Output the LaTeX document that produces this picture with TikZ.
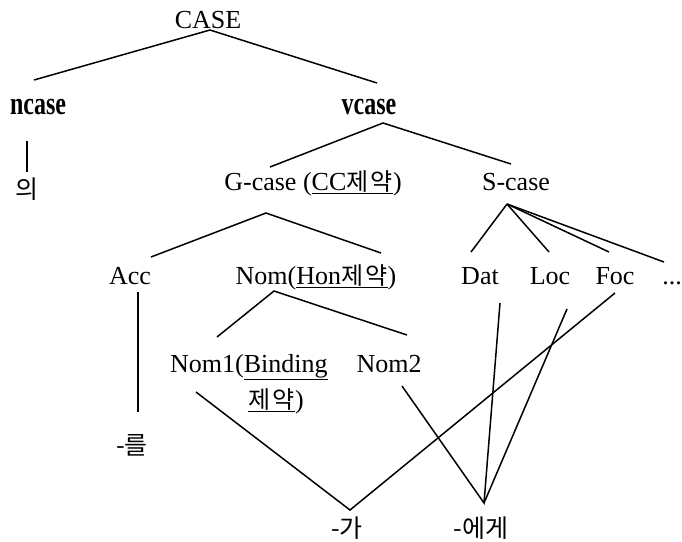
\documentclass[tikz,border=0pt]{standalone}
\usepackage{graphicx}
\usepackage{fontspec}
\setmainfont{Liberation Serif}
\newfontfamily\kr{Noto Sans CJK KR}
\newcommand{\kk}[1]{{\kr\fontsize{24}{28}\selectfont #1}}
\newcommand{\jy}{\kk{제\hspace{2.5pt}약}}
\begin{document}
\begin{tikzpicture}[x=1pt,y=-1pt,
  lbl/.style={inner sep=0pt,anchor=base,font=\fontsize{26}{30}\selectfont},
  blbl/.style={inner sep=0pt,anchor=base,font=\fontsize{24}{28}\selectfont\bfseries},
  klbl/.style={inner sep=0pt,anchor=center,font=\kr\fontsize{25}{29}\selectfont},
  edge/.style={line width=1.5pt}]
\useasboundingbox (0,0) rectangle (682,541);
% labels
\node[lbl] (case) at (208,28) {CASE};
\node[blbl] (ncase) at (38,114) {\scalebox{1}[1.35]{ncase}};
\node[blbl] (vcase) at (369,114) {\scalebox{1}[1.35]{vcase}};
\node[klbl] (ui) at (27,189) {의};
\node[lbl] (gcase) at (313,190) {G-case (\underline{CC\jy})};
\node[lbl] (scase) at (516,190) {S-case};
\node[lbl] (acc) at (130,284) {Acc};
\node[lbl] (nom) at (316,284) {Nom(\underline{Hon\jy})};
\node[lbl] (dat) at (480,284) {Dat};
\node[lbl] (loc) at (550,284) {Loc};
\node[lbl] (foc) at (615,284) {Foc};
\node[lbl] (dots) at (672,284) {...};
\node[lbl,anchor=base west] (nom1) at (170,372) {Nom1(\underline{Binding}};
\node[lbl] (nom2) at (389,372) {Nom2};
\node[lbl] (jeyak) at (276,408) {\underline{\jy})};
\node[klbl] (reul) at (132,445) {-를};
\node[klbl] (ga) at (347,528) {-가};
\node[klbl] (ege) at (481,528) {-에게};
% endpoints
\coordinate (caseA) at (210,30);
\coordinate (ncaseT) at (34,80);
\coordinate (vcaseT) at (377,83);
\coordinate (ncaseB) at (27,141);
\coordinate (uiT) at (27,172);
\coordinate (vcaseA) at (383,123);
\coordinate (gcaseT) at (270,167);
\coordinate (scaseT) at (511,164);
\coordinate (gcaseA) at (266,213);
\coordinate (accT) at (151,257);
\coordinate (nomT) at (381,253);
\coordinate (scaseA) at (507,204);
\coordinate (datT) at (471,252);
\coordinate (locT) at (549,252);
\coordinate (focT) at (609,252);
\coordinate (dotsT) at (664,262);
\coordinate (accB) at (138,292);
\coordinate (reulT) at (138,412);
\coordinate (nomA) at (274,291);
\coordinate (nom1T) at (217,337);
\coordinate (nom2T) at (407,335);
\coordinate (nom1B) at (196,392);
\coordinate (nom2B) at (402,386);
\coordinate (datB) at (500,303);
\coordinate (locB) at (567,309);
\coordinate (focB) at (615,293);
\coordinate (gaA) at (350,510);
\coordinate (egeA) at (484,503);
% edges
\draw[edge] (ncaseT) -- (caseA) -- (vcaseT);
\draw[edge] (ncaseB) -- (uiT);
\draw[edge] (gcaseT) -- (vcaseA) -- (scaseT);
\draw[edge] (accT) -- (gcaseA) -- (nomT);
\draw[edge] (scaseA) -- (datT);
\draw[edge] (scaseA) -- (locT);
\draw[edge] (scaseA) -- (focT);
\draw[edge] (scaseA) -- (dotsT);
\draw[edge] (accB) -- (reulT);
\draw[edge] (nom1T) -- (nomA) -- (nom2T);
\draw[edge] (nom1B) -- (gaA) -- (focB);
\draw[edge] (nom2B) -- (egeA) -- (datB);
\draw[edge] (egeA) -- (locB);
\end{tikzpicture}
\end{document}
